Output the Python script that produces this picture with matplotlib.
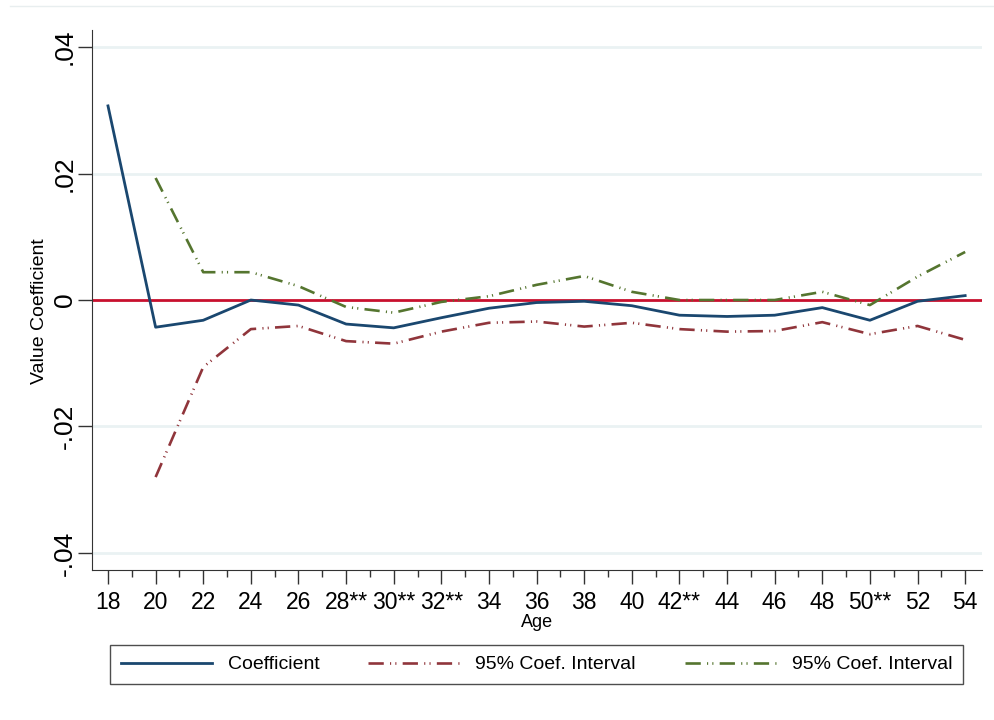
import matplotlib
matplotlib.use("Agg")
import matplotlib.pyplot as plt
from matplotlib.lines import Line2D
from matplotlib.ticker import MultipleLocator

ages = list(range(18, 56, 2))
age_labels = ["18", "20", "22", "24", "26", "28**", "30**", "32**", "34", "36",
              "38", "40", "42**", "44", "46", "48", "50**", "52", "54"]

coef = [0.0307, -0.0043, -0.0032, 0.0000, -0.0008, -0.0038, -0.0044, -0.0028,
        -0.0013, -0.0004, -0.0002, -0.0009, -0.0024, -0.0026, -0.0024, -0.0012,
        -0.0032, -0.0002, 0.0007]

# confidence bands start at age 20
ci_ages = ages[1:]
ci_low = [-0.0280, -0.0106, -0.0046, -0.0041, -0.0065, -0.0069, -0.0050, -0.0036,
          -0.0034, -0.0042, -0.0036, -0.0046, -0.0050, -0.0049, -0.0035, -0.0054,
          -0.0041, -0.0063]
ci_high = [0.0193, 0.0044, 0.0044, 0.0022, -0.0011, -0.0020, -0.0003, 0.0006,
           0.0024, 0.0038, 0.0013, 0.0000, 0.0000, 0.0000, 0.0013, -0.0008,
           0.0037, 0.0076]

navy = "#1a476f"
maroon = "#90353b"
green = "#55752f"
fam = ["Liberation Sans", "DejaVu Sans"]

plt.rcParams["lines.scale_dashes"] = False
dashdotdot = (0, (11, 4.5, 0.8, 3, 0.8, 4.5))

fig = plt.figure(figsize=(9.95, 7.2), dpi=100)
ax = fig.add_axes([0.0925, 0.2083, 0.8945, 0.75])

for v in [-0.04, -0.02, 0.02, 0.04]:
    ax.axhline(v, color="#eaf2f3", lw=2, zorder=0)
ax.axhline(0, color="#c8102e", lw=2, zorder=1)

ax.plot(ages, coef, color=navy, lw=2, label="Coefficient", zorder=3)
ax.plot(ci_ages, ci_low, color=maroon, lw=1.9, ls=dashdotdot,
        label="95% Coef. Interval", zorder=2)
ax.plot(ci_ages, ci_high, color=green, lw=1.9, ls=dashdotdot,
        label="95% Coef. Interval", zorder=2)

ax.set_xlim(17.33, 54.71)
ax.set_ylim(-0.0427, 0.0427)

for s in ["top", "right"]:
    ax.spines[s].set_visible(False)
ax.spines["left"].set_color("#333333")
ax.spines["bottom"].set_color("#333333")

ax.set_xticks(ages)
ax.set_xticklabels(age_labels, family=fam, fontsize=16.5)
ax.xaxis.set_minor_locator(MultipleLocator(1))
ax.tick_params(axis="x", which="major", length=10, width=1, color="#333333", pad=5)
ax.tick_params(axis="x", which="minor", length=5, width=1, color="#333333")

ax.set_yticks([-0.04, -0.02, 0, 0.02, 0.04])
ax.set_yticklabels(["-.04", "-.02", "0", ".02", ".04"], rotation=90, va="center",
                   family=fam, fontsize=19)
ax.tick_params(axis="y", length=10, width=1, color="#333333", pad=1)

ax.set_xlabel("Age", family=fam, fontsize=13, labelpad=0)
ax.set_ylabel("Value Coefficient", family=fam, fontsize=14)
ax.yaxis.set_label_coords(-0.05, 0.48)

leg = ax.legend(loc="upper left", bbox_to_anchor=(110 / 995, 28 / 720, 853 / 995, 47 / 720),
                bbox_transform=fig.transFigure, mode="expand", ncol=3, frameon=True,
                fancybox=False, borderaxespad=0, handlelength=4.7, handletextpad=0.8,
                columnspacing=1.6, prop={"family": fam, "size": 14},
                borderpad=0.55)
leg.get_frame().set_edgecolor("#222222")
leg.get_frame().set_linewidth(1)

# faint outer border line along the top
fig.add_artist(Line2D([0.01, 1.0], [0.992, 0.992], transform=fig.transFigure,
                      color="#e8eeef", lw=1))

fig.savefig("out.png", dpi=100)
